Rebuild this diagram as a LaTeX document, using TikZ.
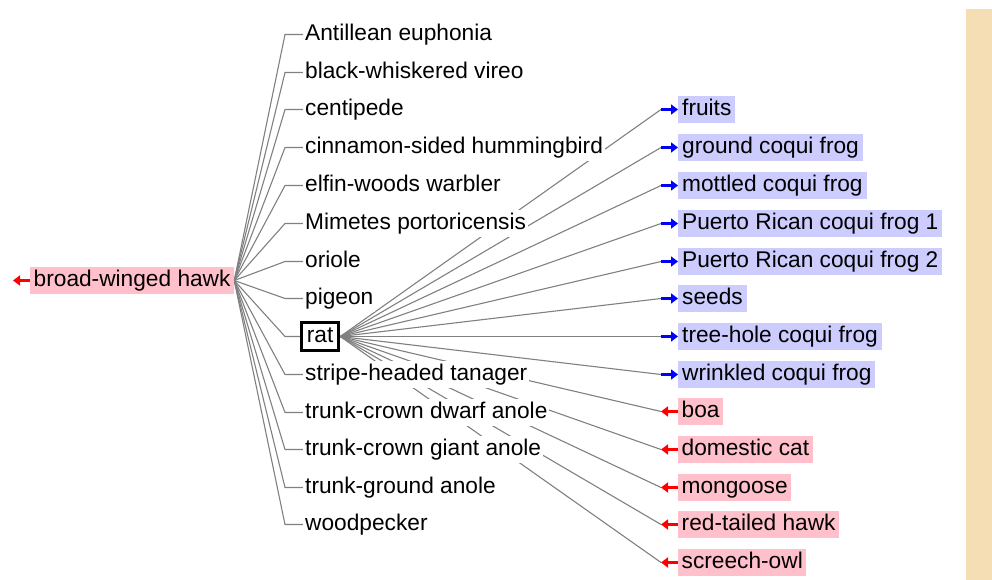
\documentclass[tikz,border=0pt]{standalone}
\usepackage{fontspec}
\setmainfont{Liberation Sans}
\usepackage{tikz}
\usetikzlibrary{arrows.meta,positioning,backgrounds}
\definecolor{preyblue}{HTML}{CCCCFF}
\definecolor{predpink}{HTML}{FFC0CB}
\definecolor{sidebar}{HTML}{F5DEB3}

\begin{document}
\begin{tikzpicture}[x=1pt, y=-1pt,
    nodes={font=\fontsize{22.7pt}{27pt}\selectfont, text height=17pt, text depth=5pt,
           inner ysep=2.5pt, inner xsep=2pt, anchor=west},
    species/.style={fill=white},
    prey/.style={fill=preyblue, inner xsep=4pt},
    predator/.style={fill=predpink, inner xsep=3.5pt},
    link/.style={draw=gray, line width=1.1pt},
    eats/.style={draw=blue, line width=3pt, -{Triangle[length=7pt,width=10pt]}},
    eaten/.style={draw=red, line width=3pt, -{Triangle[length=7pt,width=10pt]}}]
    \useasboundingbox (0,0) rectangle (992,580);
    \fill[sidebar] (966,9) rectangle (992,580);

    \begin{scope}[yshift=-1.5pt]
    % Predator of the rat's neighbours
    \node (hawk) at (30,279) [predator] {broad-winged hawk};
    \draw[eaten] (hawk.west) -- ([xshift=-17pt]hawk.west);

    % Middle column
    \node (antillean) at (303,33) [species] {Antillean euphonia};
    \node (vireo) at (303,71) [species] {black-whiskered vireo};
    \node (centipede) at (303,108) [species] {centipede};
    \node (hummingbird) at (303,146) [species] {cinnamon-sided hummingbird};
    \node (warbler) at (303,184) [species] {elfin-woods warbler};
    \node (mimetes) at (303,222) [species] {Mimetes portoricensis};
    \node (oriole) at (303,260) [species] {oriole};
    \node (pigeon) at (303,297) [species] {pigeon};
    \node (rat) at (300,335) [draw, line width=2.8pt, fill=white, inner xsep=5.5pt, inner ysep=3.2pt] {rat};
    \node (tanager) at (303,373) [species] {stripe-headed tanager};
    \node (dwarfanole) at (303,411) [species] {trunk-crown dwarf anole};
    \node (giantanole) at (303,448) [species] {trunk-crown giant anole};
    \node (groundanole) at (303,486) [species] {trunk-ground anole};
    \node (woodpecker) at (303,523) [species] {woodpecker};

    % Prey
    \node (fruits) at (678,108) [prey] {fruits};
    \node (groundfrog) at (678,146) [prey] {ground coqui frog};
    \node (mottledfrog) at (678,184) [prey] {mottled coqui frog};
    \node (prfrog1) at (678,222) [prey] {Puerto Rican coqui frog 1};
    \node (prfrog2) at (678,260) [prey] {Puerto Rican coqui frog 2};
    \node (seeds) at (678,297) [prey] {seeds};
    \node (treefrog) at (678,335) [prey] {tree-hole coqui frog};
    \node (wrinkledfrog) at (678,373) [prey] {wrinkled coqui frog};

    % Predators
    \node (boa) at (678,410) [predator] {boa};
    \node (cat) at (678,448) [predator] {domestic cat};
    \node (mongoose) at (678,486) [predator] {mongoose};
    \node (redhawk) at (678,523) [predator] {red-tailed hawk};
    \node (owl) at (678,561) [predator] {screech-owl};

    \draw[eats] ([xshift=-17pt]fruits.west) -- (fruits.west);
    \draw[eats] ([xshift=-17pt]groundfrog.west) -- (groundfrog.west);
    \draw[eats] ([xshift=-17pt]mottledfrog.west) -- (mottledfrog.west);
    \draw[eats] ([xshift=-17pt]prfrog1.west) -- (prfrog1.west);
    \draw[eats] ([xshift=-17pt]prfrog2.west) -- (prfrog2.west);
    \draw[eats] ([xshift=-17pt]seeds.west) -- (seeds.west);
    \draw[eats] ([xshift=-17pt]treefrog.west) -- (treefrog.west);
    \draw[eats] ([xshift=-17pt]wrinkledfrog.west) -- (wrinkledfrog.west);
    \draw[eaten] (boa.west) -- ([xshift=-17pt]boa.west);
    \draw[eaten] (cat.west) -- ([xshift=-17pt]cat.west);
    \draw[eaten] (mongoose.west) -- ([xshift=-17pt]mongoose.west);
    \draw[eaten] (redhawk.west) -- ([xshift=-17pt]redhawk.west);
    \draw[eaten] (owl.west) -- ([xshift=-17pt]owl.west);

    % Links, behind the labels
    \begin{scope}[on background layer]
        \draw[link] (hawk.east) -- ([xshift=-18pt]antillean.west) -- (antillean.west);
        \draw[link] (hawk.east) -- ([xshift=-18pt]vireo.west) -- (vireo.west);
        \draw[link] (hawk.east) -- ([xshift=-18pt]centipede.west) -- (centipede.west);
        \draw[link] (hawk.east) -- ([xshift=-18pt]hummingbird.west) -- (hummingbird.west);
        \draw[link] (hawk.east) -- ([xshift=-18pt]warbler.west) -- (warbler.west);
        \draw[link] (hawk.east) -- ([xshift=-18pt]mimetes.west) -- (mimetes.west);
        \draw[link] (hawk.east) -- ([xshift=-18pt]oriole.west) -- (oriole.west);
        \draw[link] (hawk.east) -- ([xshift=-18pt]pigeon.west) -- (pigeon.west);
        \draw[link] (hawk.east) -- ([xshift=-15pt]rat.west) -- (rat.west);
        \draw[link] (hawk.east) -- ([xshift=-18pt]tanager.west) -- (tanager.west);
        \draw[link] (hawk.east) -- ([xshift=-18pt]dwarfanole.west) -- (dwarfanole.west);
        \draw[link] (hawk.east) -- ([xshift=-18pt]giantanole.west) -- (giantanole.west);
        \draw[link] (hawk.east) -- ([xshift=-18pt]groundanole.west) -- (groundanole.west);
        \draw[link] (hawk.east) -- ([xshift=-18pt]woodpecker.west) -- (woodpecker.west);

        \draw[link] (rat.east) -- ([xshift=-17pt]fruits.west);
        \draw[link] (rat.east) -- ([xshift=-17pt]groundfrog.west);
        \draw[link] (rat.east) -- ([xshift=-17pt]mottledfrog.west);
        \draw[link] (rat.east) -- ([xshift=-17pt]prfrog1.west);
        \draw[link] (rat.east) -- ([xshift=-17pt]prfrog2.west);
        \draw[link] (rat.east) -- ([xshift=-17pt]seeds.west);
        \draw[link] (rat.east) -- ([xshift=-17pt]treefrog.west);
        \draw[link] (rat.east) -- ([xshift=-17pt]wrinkledfrog.west);
        \draw[link] (rat.east) -- ([xshift=-17pt]boa.west);
        \draw[link] (rat.east) -- ([xshift=-17pt]cat.west);
        \draw[link] (rat.east) -- ([xshift=-17pt]mongoose.west);
        \draw[link] (rat.east) -- ([xshift=-17pt]redhawk.west);
        \draw[link] (rat.east) -- ([xshift=-17pt]owl.west);
    \end{scope}
    \end{scope}
\end{tikzpicture}
\end{document}
